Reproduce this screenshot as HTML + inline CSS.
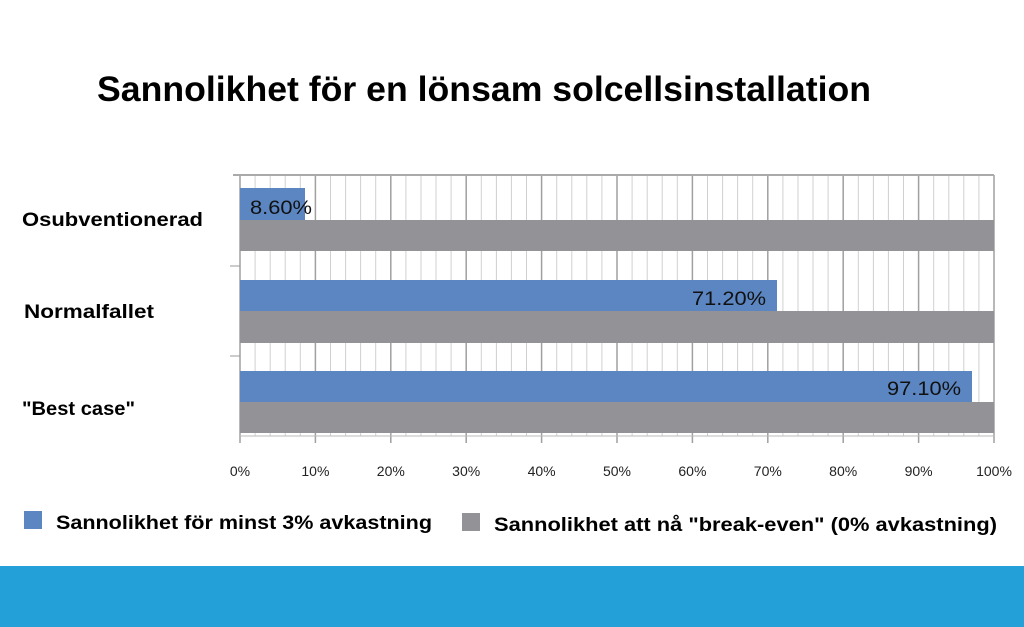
<!DOCTYPE html>
<html><head><meta charset="utf-8"><style>
body{margin:0;width:1024px;height:627px;background:#fff;position:relative;overflow:hidden;font-family:"Liberation Sans",sans-serif}
</style></head><body>
<svg width="1024" height="627" style="position:absolute;left:0;top:0" font-family="Liberation Sans, sans-serif">
<text x="97" y="101" font-size="35" font-weight="bold" textLength="774" lengthAdjust="spacingAndGlyphs">Sannolikhet för en lönsam solcellsinstallation</text>
<g stroke="#d0d0d0" stroke-width="1">
<line x1="255.1" y1="175" x2="255.1" y2="436"/><line x1="270.2" y1="175" x2="270.2" y2="436"/><line x1="285.2" y1="175" x2="285.2" y2="436"/><line x1="300.3" y1="175" x2="300.3" y2="436"/>
<line x1="330.5" y1="175" x2="330.5" y2="436"/><line x1="345.6" y1="175" x2="345.6" y2="436"/><line x1="360.6" y1="175" x2="360.6" y2="436"/><line x1="375.7" y1="175" x2="375.7" y2="436"/>
<line x1="405.9" y1="175" x2="405.9" y2="436"/><line x1="421" y1="175" x2="421" y2="436"/><line x1="436" y1="175" x2="436" y2="436"/><line x1="451.1" y1="175" x2="451.1" y2="436"/>
<line x1="481.3" y1="175" x2="481.3" y2="436"/><line x1="496.4" y1="175" x2="496.4" y2="436"/><line x1="511.4" y1="175" x2="511.4" y2="436"/><line x1="526.5" y1="175" x2="526.5" y2="436"/>
<line x1="556.7" y1="175" x2="556.7" y2="436"/><line x1="571.8" y1="175" x2="571.8" y2="436"/><line x1="586.8" y1="175" x2="586.8" y2="436"/><line x1="601.9" y1="175" x2="601.9" y2="436"/>
<line x1="632.1" y1="175" x2="632.1" y2="436"/><line x1="647.2" y1="175" x2="647.2" y2="436"/><line x1="662.2" y1="175" x2="662.2" y2="436"/><line x1="677.3" y1="175" x2="677.3" y2="436"/>
<line x1="707.5" y1="175" x2="707.5" y2="436"/><line x1="722.6" y1="175" x2="722.6" y2="436"/><line x1="737.6" y1="175" x2="737.6" y2="436"/><line x1="752.7" y1="175" x2="752.7" y2="436"/>
<line x1="782.9" y1="175" x2="782.9" y2="436"/><line x1="798" y1="175" x2="798" y2="436"/><line x1="813" y1="175" x2="813" y2="436"/><line x1="828.1" y1="175" x2="828.1" y2="436"/>
<line x1="858.3" y1="175" x2="858.3" y2="436"/><line x1="873.4" y1="175" x2="873.4" y2="436"/><line x1="888.4" y1="175" x2="888.4" y2="436"/><line x1="903.5" y1="175" x2="903.5" y2="436"/>
<line x1="933.7" y1="175" x2="933.7" y2="436"/><line x1="948.8" y1="175" x2="948.8" y2="436"/><line x1="963.8" y1="175" x2="963.8" y2="436"/><line x1="978.9" y1="175" x2="978.9" y2="436"/>
</g>
<g stroke="#a0a0a0" stroke-width="1.5">
<line x1="315.4" y1="175" x2="315.4" y2="443"/><line x1="390.8" y1="175" x2="390.8" y2="443"/><line x1="466.2" y1="175" x2="466.2" y2="443"/><line x1="541.6" y1="175" x2="541.6" y2="443"/><line x1="617" y1="175" x2="617" y2="443"/><line x1="692.4" y1="175" x2="692.4" y2="443"/><line x1="767.8" y1="175" x2="767.8" y2="443"/><line x1="843.2" y1="175" x2="843.2" y2="443"/><line x1="918.6" y1="175" x2="918.6" y2="443"/><line x1="994" y1="175" x2="994" y2="443"/>
<line x1="240" y1="175" x2="240" y2="443"/>
</g>
<line x1="233" y1="175" x2="994" y2="175" stroke="#aaa" stroke-width="2"/>
<line x1="230" y1="266" x2="240" y2="266" stroke="#999"/>
<line x1="230" y1="356" x2="240" y2="356" stroke="#999"/>
<line x1="240" y1="436" x2="994" y2="436" stroke="#bbb"/>
<g font-size="14" text-anchor="middle" fill="#222">
<text x="240" y="476">0%</text><text x="315.4" y="476">10%</text><text x="390.8" y="476">20%</text><text x="466.2" y="476">30%</text><text x="541.6" y="476">40%</text><text x="617" y="476">50%</text><text x="692.4" y="476">60%</text><text x="767.8" y="476">70%</text><text x="843.2" y="476">80%</text><text x="918.6" y="476">90%</text><text x="994" y="476">100%</text>
</g>
<rect x="240" y="188" width="65" height="32" fill="#5b86c1"/>
<rect x="240" y="220" width="754" height="31" fill="#939297"/>
<rect x="240" y="280" width="537" height="31" fill="#5b86c1"/>
<rect x="240" y="311" width="754" height="32" fill="#939297"/>
<rect x="240" y="371" width="732" height="31" fill="#5b86c1"/>
<rect x="240" y="402" width="754" height="31" fill="#939297"/>
<g font-size="19" fill="#111">
<text x="250" y="214" textLength="62" lengthAdjust="spacingAndGlyphs">8.60%</text>
<text x="692" y="305" textLength="74" lengthAdjust="spacingAndGlyphs">71.20%</text>
<text x="887" y="395" textLength="74" lengthAdjust="spacingAndGlyphs">97.10%</text>
</g>
<g font-size="19" font-weight="bold" fill="#000">
<text x="22" y="226" textLength="181" lengthAdjust="spacingAndGlyphs">Osubventionerad</text>
<text x="24" y="318" textLength="130" lengthAdjust="spacingAndGlyphs">Normalfallet</text>
<text x="22" y="415" textLength="113" lengthAdjust="spacingAndGlyphs">"Best case"</text>
<text x="56" y="529" textLength="376" lengthAdjust="spacingAndGlyphs">Sannolikhet för minst 3% avkastning</text>
<text x="494" y="531" textLength="503" lengthAdjust="spacingAndGlyphs">Sannolikhet att nå "break-even" (0% avkastning)</text>
</g>
<rect x="24" y="511" width="18" height="18" fill="#5b86c1"/>
<rect x="462" y="513" width="18" height="18" fill="#939297"/>
<rect x="0" y="566" width="1024" height="61" fill="#23a0d8"/>
</svg>
</body></html>
